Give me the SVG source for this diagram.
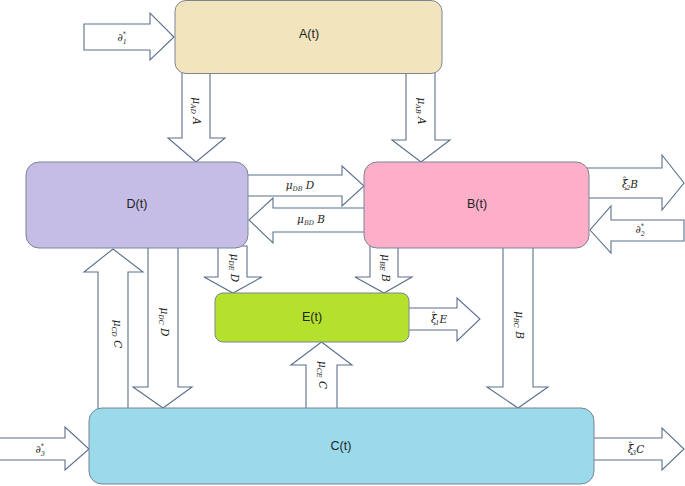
<svg xmlns="http://www.w3.org/2000/svg" width="685" height="486" viewBox="0 0 685 486">
<style>
.arr{fill:#ffffff;stroke:#5b6f8c;stroke-width:1.1;stroke-linejoin:miter}
.node{stroke:#7a8594;stroke-width:1}
.nl{font-family:"Liberation Sans",Arial,sans-serif;font-size:12.5px;fill:#222;text-anchor:middle}
.ml{font-family:"DejaVu Serif","Liberation Serif",serif;font-style:italic;font-size:10.5px;fill:#222;text-anchor:middle}
.sb{font-size:6.5px}
.hat{font-style:normal;font-size:9px}
</style>
<rect width="685" height="486" fill="#ffffff"/>
<g id="connectors">
<polygon class="arr" points="84,24 150,24 150,13 174,37 150,60 150,50 84,50"/>
<polygon class="arr" points="182,70 210,70 210,138 225,138 196,162 168,138 182,138"/>
<polygon class="arr" points="406,70 435,70 435,140 450,140 421,162 392,140 406,140"/>
<polygon class="arr" points="246,175 342,175 342,166 364,186 342,206 342,196 246,196"/>
<polygon class="arr" points="366,208 273,208 273,198 249,220 273,243 273,232 366,232"/>
<polygon class="arr" points="587,168 662,168 662,155 684,183 662,210 662,198 587,198"/>
<polygon class="arr" points="684,220 611,220 611,206 590,230 611,253 611,241 684,241"/>
<polygon class="arr" points="218,246 247,246 247,277 262,277 233,293 204,277 218,277"/>
<polygon class="arr" points="370,246 398,246 398,277 412,277 384,293 355,277 370,277"/>
<polygon class="arr" points="407,308 457,308 457,298 480,319 457,341 457,330 407,330"/>
<polygon class="arr" points="98,410 98,272 84,272 113,249 143,272 128,272 128,410"/>
<polygon class="arr" points="148,246 178,246 178,387 192,387 163,408 133,387 148,387"/>
<polygon class="arr" points="306,410 306,365 291,365 321.5,342 352,365 337,365 337,410"/>
<polygon class="arr" points="503,246 533,246 533,387 548,387 518,408 487,387 503,387"/>
<polygon class="arr" points="-1,438 65,438 65,427 89,449 65,470 65,460 -1,460"/>
<polygon class="arr" points="592,438 662,438 662,428 684,449 662,470 662,460 592,460"/>
<text class="ml" x="122" y="41">∂<tspan class="sb" dy="3">1</tspan><tspan class="sb" dx="-4" dy="-8">*</tspan></text>
<text class="ml" transform="translate(193,111) rotate(90)">μ<tspan class="sb" dy="2">AD</tspan><tspan dy="-2"> A</tspan></text>
<text class="ml" transform="translate(418,111) rotate(90)">μ<tspan class="sb" dy="2">AB</tspan><tspan dy="-2"> A</tspan></text>
<text class="ml" x="300" y="189">μ<tspan class="sb" dy="2">DB</tspan><tspan dy="-2"> D</tspan></text>
<text class="ml" x="311" y="223">μ<tspan class="sb" dy="2">BD</tspan><tspan dy="-2"> B</tspan></text>
<text class="ml" x="630" y="188">ξ<tspan class="hat" dx="-5.5" dy="-4">ˆ</tspan><tspan class="sb" dx="-0.5" dy="6">2</tspan><tspan dy="-2">B</tspan></text>
<text class="ml" x="640" y="233">∂<tspan class="sb" dy="3">2</tspan><tspan class="sb" dx="-4" dy="-8">*</tspan></text>
<text class="ml" transform="translate(231,268) rotate(90)">μ<tspan class="sb" dy="2">DE</tspan><tspan dy="-2"> D</tspan></text>
<text class="ml" transform="translate(382,268) rotate(90)">μ<tspan class="sb" dy="2">BE</tspan><tspan dy="-2"> B</tspan></text>
<text class="ml" x="439" y="323">ξ<tspan class="hat" dx="-5.5" dy="-4">ˆ</tspan><tspan class="sb" dx="-0.5" dy="6">1</tspan><tspan dy="-2">E</tspan></text>
<text class="ml" transform="translate(114,334) rotate(90)">μ<tspan class="sb" dy="2">CD</tspan><tspan dy="-2"> C</tspan></text>
<text class="ml" transform="translate(161,322) rotate(90)">μ<tspan class="sb" dy="2">DC</tspan><tspan dy="-2"> D</tspan></text>
<text class="ml" transform="translate(319,375) rotate(90)">μ<tspan class="sb" dy="2">CE</tspan><tspan dy="-2"> C</tspan></text>
<text class="ml" transform="translate(516,325) rotate(90)">μ<tspan class="sb" dy="2">BC</tspan><tspan dy="-2"> B</tspan></text>
<text class="ml" x="40" y="453">∂<tspan class="sb" dy="3">3</tspan><tspan class="sb" dx="-4" dy="-8">*</tspan></text>
<text class="ml" x="636" y="453">ξ<tspan class="hat" dx="-5.5" dy="-4">ˆ</tspan><tspan class="sb" dx="-0.5" dy="6">3</tspan><tspan dy="-2">C</tspan></text>
</g>
<g id="node-A">
<rect class="node" x="175" y="0.5" width="267" height="73" rx="11" fill="#f2e5be"/>
<text class="nl" x="309" y="38">A(t)</text>
</g>
<g id="node-D">
<rect class="node" x="26" y="162" width="222" height="86" rx="13" fill="#c5bde6"/>
<text class="nl" x="137" y="208">D(t)</text>
</g>
<g id="node-B">
<rect class="node" x="364" y="162" width="225" height="86" rx="13" fill="#fdafc9"/>
<text class="nl" x="477" y="208">B(t)</text>
</g>
<g id="node-E">
<rect class="node" x="215" y="293" width="194" height="49" rx="8" fill="#b4e12b"/>
<text class="nl" x="312" y="321">E(t)</text>
</g>
<g id="node-C">
<rect class="node" x="89" y="408" width="505" height="76" rx="13" fill="#9bdaeb"/>
<text class="nl" x="341" y="450">C(t)</text>
</g>
</svg>
